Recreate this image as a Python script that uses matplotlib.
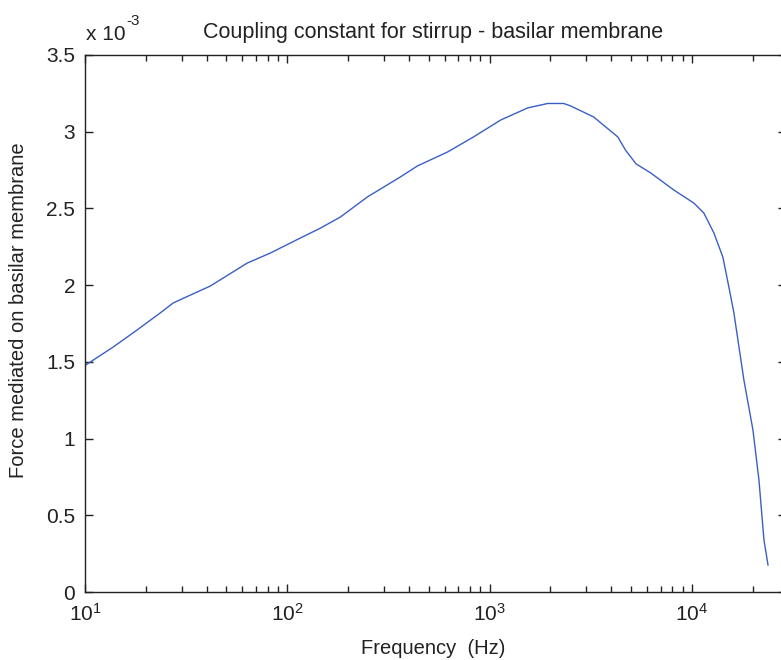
import matplotlib
matplotlib.use("Agg")
import matplotlib.pyplot as plt
import numpy as np
from matplotlib.ticker import LogLocator, LogFormatterMathtext, FixedLocator

plt.rcParams['font.family'] = ['Liberation Sans', 'DejaVu Sans']
plt.rcParams['mathtext.default'] = 'regular'

# frequency (Hz) and force (x 1e-3)
freq = [10.1, 13.8, 18.1, 23.5, 27.3, 35.8, 41.6, 63.4, 82.4, 116, 146, 183,
        249, 362, 440, 620, 833, 1134, 1542, 1937, 2323, 2516, 3270, 4303,
        4700, 5300, 6266, 8144, 10230, 11460, 12850, 14230, 15240, 16140, 18080,
        20040, 21460, 22720, 23790]
force = [1.48, 1.597, 1.708, 1.818, 1.884, 1.955, 1.994, 2.144, 2.209, 2.307,
         2.372, 2.444, 2.575, 2.705, 2.777, 2.868, 2.966, 3.076, 3.155, 3.184,
         3.184, 3.168, 3.096, 2.966, 2.880, 2.790, 2.731, 2.620, 2.535, 2.470,
         2.340, 2.183, 1.988, 1.818, 1.382, 1.056, 0.730, 0.339, 0.176]

yticks = [0, 0.5, 1, 1.5, 2, 2.5, 3, 3.5]
ytick_labels = ['0', '0.5', '1', '1.5', '2', '2.5', '3', '3.5']

W, H = 781, 660
fig = plt.figure(figsize=(W / 100, H / 100), dpi=100)
left, right, top, bottom = 85, 786, 55, 592
ax = fig.add_axes([left / W, (H - bottom) / H, (right - left) / W, (bottom - top) / H])

ax.plot(freq, force, color='#3a5fc4', lw=1.0)

ax.set_xscale('log')
x_hi = 10 ** (4 + (right - 692) / 202)
ax.set_xlim(10, x_hi)
ax.set_ylim(0, 3.5)
ax.yaxis.set_major_locator(FixedLocator(yticks))
ax.set_yticklabels(ytick_labels)
ax.xaxis.set_major_locator(LogLocator(base=10))
ax.xaxis.set_major_formatter(LogFormatterMathtext())
ax.xaxis.set_minor_locator(LogLocator(base=10, subs=np.arange(2, 10)))

for s in ax.spines.values():
    s.set_linewidth(1.0)
    s.set_color('#222222')
ax.tick_params(which='both', direction='in', top=True, right=True,
               labelsize=15, colors='#222222', width=1.0)
ax.tick_params(which='major', length=6)
ax.tick_params(which='minor', length=4)
ax.tick_params(axis='y', pad=7)
ax.tick_params(axis='x', pad=8)

ax.set_title('Coupling constant for stirrup - basilar membrane',
             fontsize=15.5, color='#222222', pad=12, x=0.497)
ax.set_xlabel('Frequency  (Hz)', fontsize=14.5, color='#222222')
ax.xaxis.set_label_coords(0.497, -0.087)
ax.xaxis.label.set_va('top')
ax.set_ylabel('Force mediated on basilar membrane', fontsize=14.5, color='#222222')
ax.yaxis.set_label_coords(-0.081, 0.525)

# MATLAB-style exponent label above the y axis
ax.text(0.001, 1.02, 'x 10', transform=ax.transAxes, fontsize=15,
        color='#222222', ha='left', va='bottom')
ax.text(0.059, 1.05, '-3', transform=ax.transAxes, fontsize=11,
        color='#222222', ha='left', va='bottom')

fig.savefig('out.png', dpi=100)
